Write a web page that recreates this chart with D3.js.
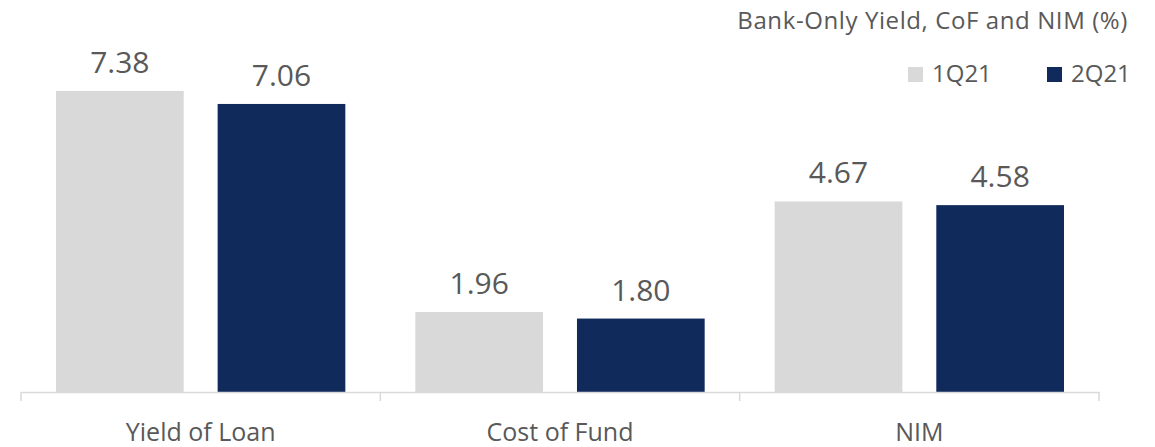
<!DOCTYPE html>
<html>
<head>
<meta charset="utf-8">
<script src="https://cdn.jsdelivr.net/npm/d3@7"></script>
<style>
  html, body { margin: 0; padding: 0; background: #fff; }
  svg { display: block; font-family: "Open Sans", "Noto Sans", sans-serif; }
</style>
</head>
<body>
<svg id="chart" width="1155" height="447"></svg>
<script>
const categories = ["Yield of Loan", "Cost of Fund", "NIM"];
const seriesNames = ["1Q21", "2Q21"];
const values1Q21 = [7.38, 1.96, 4.67];
const values2Q21 = [7.06, 1.80, 4.58];
const colors = ["#D9D9D9", "#0F2A5B"];
const title = "Bank-Only Yield, CoF and NIM (%)";

const seriesValues = [values1Q21, values2Q21];
const svg = d3.select("#chart");
const textColor = "#595959";

const x = d3.scaleBand().domain(categories).range([21, 1099]).padding(0);
const xi = d3.scaleBand().domain(seriesNames)
  .range([35, x.bandwidth() - 35]).paddingInner(0.21).paddingOuter(0);
const y = d3.scaleLinear().domain([0, 8]).range([392, 392 - 8 * 40.8]);

// bars
categories.forEach((c, ci) => {
  seriesNames.forEach((s, si) => {
    const v = seriesValues[si][ci];
    const bx = x(c) + xi(s);
    svg.append("rect")
      .attr("x", bx).attr("y", y(v))
      .attr("width", xi.bandwidth()).attr("height", y(0) - y(v))
      .attr("fill", colors[si]);
    svg.append("text")
      .attr("x", bx + xi.bandwidth() / 2).attr("y", y(v) - 18)
      .attr("text-anchor", "middle")
      .attr("font-size", 30).attr("fill", textColor)
      .text(v.toFixed(2));
  });
});

// axis
const axis = d3.axisBottom(x).tickSize(0).tickSizeOuter(0);
const gAxis = svg.append("g").attr("transform", `translate(0,${y(0)})`).call(axis);
gAxis.select(".domain").attr("stroke", "#D9D9D9").attr("stroke-width", 1.5);
gAxis.selectAll(".tick text")
  .attr("y", 49).attr("dy", 0)
  .attr("font-size", 25).attr("fill", textColor)
  .attr("font-family", "Open Sans, Noto Sans, sans-serif");
gAxis.selectAll(".tick line").remove();
// category boundary ticks
const bounds = categories.map(c => x(c)).concat([x(categories[categories.length - 1]) + x.bandwidth()]);
gAxis.selectAll("line.sep").data(bounds).enter().append("line")
  .attr("class", "sep")
  .attr("x1", d => d).attr("x2", d => d)
  .attr("y1", 0).attr("y2", 9)
  .attr("stroke", "#D9D9D9").attr("stroke-width", 1.5);

// title
svg.append("text")
  .attr("x", 1128).attr("y", 29)
  .attr("text-anchor", "end")
  .attr("font-size", 24).attr("letter-spacing", 0.6).attr("fill", textColor)
  .text(title);

// legend
const legendX = [908, 1047];
seriesNames.forEach((s, i) => {
  svg.append("rect")
    .attr("x", legendX[i]).attr("y", 67)
    .attr("width", 15).attr("height", 15)
    .attr("fill", colors[i]);
  svg.append("text")
    .attr("x", legendX[i] + 24).attr("y", 82)
    .attr("font-size", 24).attr("fill", textColor)
    .text(s);
});
</script>
</body>
</html>
